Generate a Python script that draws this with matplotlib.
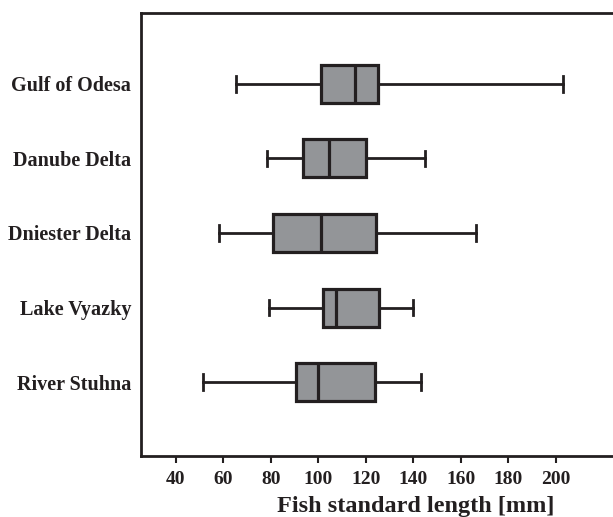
import matplotlib
matplotlib.use("Agg")
import matplotlib.pyplot as plt

categories = ["Gulf of Odesa", "Danube Delta", "Dniester Delta", "Lake Vyazky", "River Stuhna"]
whislo = [65.3, 78.3, 58.0, 79.0, 51.4]
q1 = [101.0, 93.5, 81.0, 102.0, 90.5]
med = [115.4, 104.4, 101.0, 107.4, 99.8]
q3 = [125.0, 120.0, 124.2, 125.5, 123.8]
whishi = [203.0, 145.0, 166.3, 140.0, 143.0]
xticks = [40, 60, 80, 100, 120, 140, 160, 180, 200]

plt.rcParams['font.family'] = ['Liberation Serif', 'DejaVu Serif']
plt.rcParams['font.weight'] = 'bold'

fig = plt.figure(figsize=(6.13, 5.17), dpi=100)
ax = fig.add_axes([0.230, 0.118, 0.770, 0.857])

stats = []
for i, c in enumerate(categories):
    stats.append(dict(label=c, whislo=whislo[i], q1=q1[i], med=med[i], q3=q3[i], whishi=whishi[i], fliers=[]))

edge = '#231f20'
positions = list(range(1, len(categories) + 1))
ax.bxp(stats, positions=positions, vert=False, widths=0.51, patch_artist=True, showfliers=False,
       boxprops=dict(facecolor='#939598', edgecolor=edge, linewidth=2.3),
       medianprops=dict(color=edge, linewidth=2.3),
       whiskerprops=dict(color=edge, linewidth=2.0),
       capprops=dict(color=edge, linewidth=2.0), capwidths=0.21)

ax.set_ylim(5.99, 0.05)
ax.set_xlim(25.3, 224)
ax.set_xticks(xticks)
ax.set_xticklabels([str(t) for t in xticks], fontsize=14, fontweight='bold', color='#231f20')
ax.set_yticks(positions)
ax.set_yticklabels(categories, fontsize=14.5, fontweight='bold', color='#231f20')
ax.tick_params(axis='y', length=0, pad=7)
ax.tick_params(axis='x', length=5, width=1.5, color=edge, pad=6, direction='out')
ax.spines['right'].set_visible(False)
for s in ['left', 'top', 'bottom']:
    ax.spines[s].set_linewidth(2.0)
    ax.spines[s].set_color(edge)
ax.set_xlabel("Fish standard length [mm]", fontsize=17.5, fontweight='bold', color='#231f20')
ax.xaxis.set_label_coords(0.583, -0.09)

fig.savefig("out.png", dpi=100)
